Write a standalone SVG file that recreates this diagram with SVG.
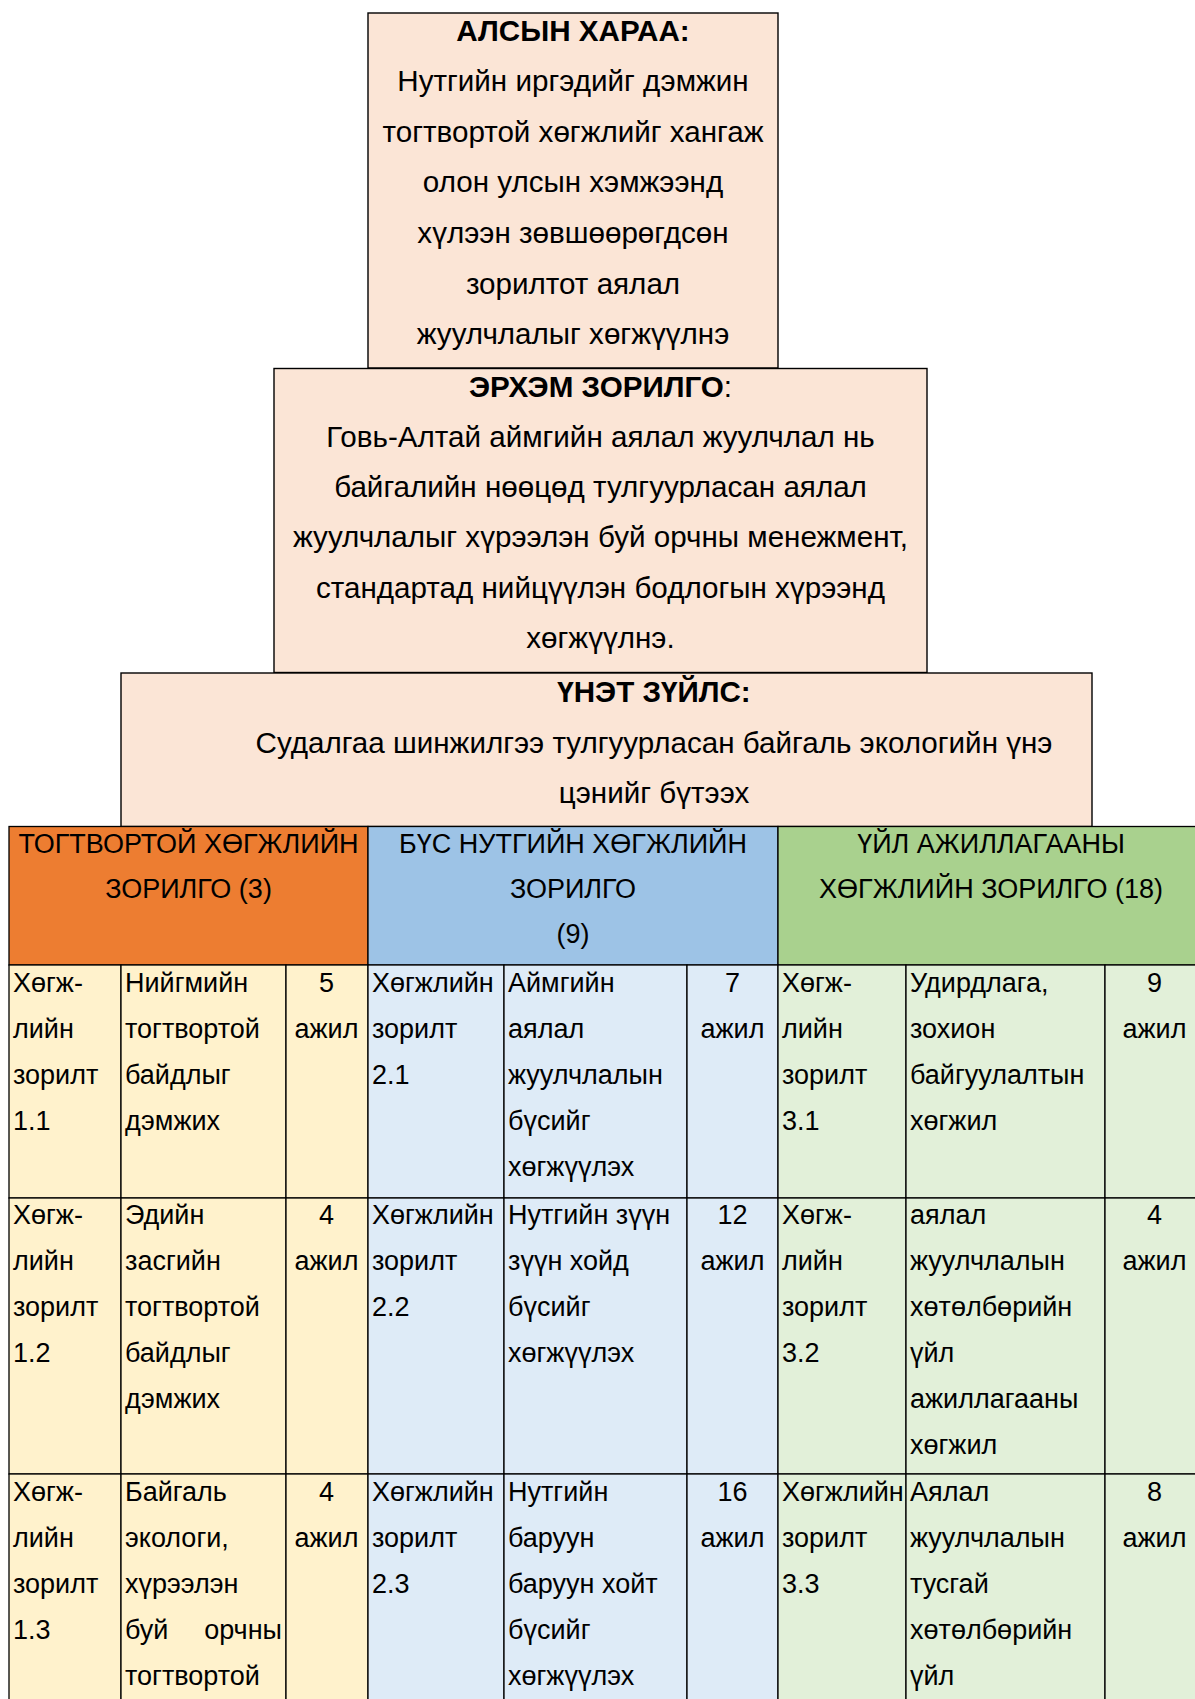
<svg xmlns="http://www.w3.org/2000/svg" width="1195" height="1699" viewBox="0 0 1195 1699">
<style>
text{font-family:"Liberation Sans",Arial,sans-serif;fill:#000}
.bx{fill:#FBE5D6;stroke:#000;stroke-width:1.4}
.bt{font-size:29.6px;text-anchor:middle}
.b{font-weight:bold}
.h{font-size:27px;text-anchor:middle}
.t{font-size:27px}
.c{text-anchor:middle}
.e{text-anchor:end}
.cell{stroke:#000;stroke-width:1.3}
.ho{fill:#ED7D31}.hb{fill:#9DC3E6}.hg{fill:#A9D18E}
.lo{fill:#FFF2CC}.lb{fill:#DEEBF7}.lg{fill:#E2F0D9}
</style>
<g id="vision">
<rect class="bx" x="368" y="13" width="410" height="355"/>
<text class="bt b" x="573" y="41">АЛСЫН ХАРАА:</text>
<text class="bt" x="573" y="91">Нутгийн иргэдийг дэмжин</text>
<text class="bt" x="573" y="141.5">тогтвортой хөгжлийг хангаж</text>
<text class="bt" x="573" y="192">олон улсын хэмжээнд</text>
<text class="bt" x="573" y="243">хүлээн зөвшөөрөгдсөн</text>
<text class="bt" x="573" y="293.5">зорилтот аялал</text>
<text class="bt" x="573" y="344">жуулчлалыг хөгжүүлнэ</text>
</g>
<g id="mission">
<rect class="bx" x="274" y="368.5" width="653" height="304"/>
<text class="bt" x="600.5" y="396.5"><tspan class="b">ЭРХЭМ ЗОРИЛГО</tspan>:</text>
<text class="bt" x="600.5" y="447">Говь-Алтай аймгийн аялал жуулчлал нь</text>
<text class="bt" x="600.5" y="497">байгалийн нөөцөд тулгуурласан аялал</text>
<text class="bt" x="600.5" y="547">жуулчлалыг хүрээлэн буй орчны менежмент,</text>
<text class="bt" x="600.5" y="597.5">стандартад нийцүүлэн бодлогын хүрээнд</text>
<text class="bt" x="600.5" y="648">хөгжүүлнэ.</text>
</g>
<g id="values">
<rect class="bx" x="121" y="673" width="971" height="153.5"/>
<text class="bt b" x="654" y="702">ҮНЭТ ЗҮЙЛС:</text>
<text class="bt" x="654" y="752.5">Судалгаа шинжилгээ тулгуурласан байгаль экологийн үнэ</text>
<text class="bt" x="654" y="803">цэнийг бүтээх</text>
</g>
<g id="goal1">
<rect class="cell ho" x="9" y="826.5" width="359" height="138.5"/>
<text class="h" x="188.5" y="853">ТОГТВОРТОЙ ХӨГЖЛИЙН</text>
<text class="h" x="188.5" y="898">ЗОРИЛГО (3)</text>
</g>
<g id="goal2">
<rect class="cell hb" x="368" y="826.5" width="410" height="138.5"/>
<text class="h" x="573" y="853">БҮС НУТГИЙН ХӨГЖЛИЙН</text>
<text class="h" x="573" y="898">ЗОРИЛГО</text>
<text class="h" x="573" y="943">(9)</text>
</g>
<g id="goal3">
<rect class="cell hg" x="778" y="826.5" width="430" height="138.5"/>
<text class="h" x="991" y="853">ҮЙЛ АЖИЛЛАГААНЫ</text>
<text class="h" x="991" y="898">ХӨГЖЛИЙН ЗОРИЛГО (18)</text>
</g>
<g id="obj11">
<rect class="cell lo" x="9" y="965" width="112" height="233"/>
<rect class="cell lo" x="121" y="965" width="165" height="233"/>
<rect class="cell lo" x="286" y="965" width="82" height="233"/>
<text class="t" x="13" y="992">Хөгж-</text><text class="t" x="13" y="1038">лийн</text><text class="t" x="13" y="1084">зорилт</text><text class="t" x="13" y="1130">1.1</text>
<text class="t" x="125" y="992">Нийгмийн</text><text class="t" x="125" y="1038">тогтвортой</text><text class="t" x="125" y="1084">байдлыг</text><text class="t" x="125" y="1130">дэмжих</text>
<text class="t c" x="326.5" y="992">5</text><text class="t c" x="326.5" y="1038">ажил</text>
</g>
<g id="obj21">
<rect class="cell lb" x="368" y="965" width="136" height="233"/>
<rect class="cell lb" x="504" y="965" width="183" height="233"/>
<rect class="cell lb" x="687" y="965" width="91" height="233"/>
<text class="t" x="372" y="992">Хөгжлийн</text><text class="t" x="372" y="1038">зорилт</text><text class="t" x="372" y="1084">2.1</text>
<text class="t" x="508" y="992">Аймгийн</text><text class="t" x="508" y="1038">аялал</text><text class="t" x="508" y="1084">жуулчлалын</text><text class="t" x="508" y="1130">бүсийг</text><text class="t" x="508" y="1176">хөгжүүлэх</text>
<text class="t c" x="732.5" y="992">7</text><text class="t c" x="732.5" y="1038">ажил</text>
</g>
<g id="obj31">
<rect class="cell lg" x="778" y="965" width="128" height="233"/>
<rect class="cell lg" x="906" y="965" width="199" height="233"/>
<rect class="cell lg" x="1105" y="965" width="103" height="233"/>
<text class="t" x="782" y="992">Хөгж-</text><text class="t" x="782" y="1038">лийн</text><text class="t" x="782" y="1084">зорилт</text><text class="t" x="782" y="1130">3.1</text>
<text class="t" x="910" y="992">Удирдлага,</text><text class="t" x="910" y="1038">зохион</text><text class="t" x="910" y="1084">байгуулалтын</text><text class="t" x="910" y="1130">хөгжил</text>
<text class="t c" x="1154.5" y="992">9</text><text class="t c" x="1154.5" y="1038">ажил</text>
</g>
<g id="obj12">
<rect class="cell lo" x="9" y="1198" width="112" height="276"/>
<rect class="cell lo" x="121" y="1198" width="165" height="276"/>
<rect class="cell lo" x="286" y="1198" width="82" height="276"/>
<text class="t" x="13" y="1224">Хөгж-</text><text class="t" x="13" y="1270">лийн</text><text class="t" x="13" y="1316">зорилт</text><text class="t" x="13" y="1362">1.2</text>
<text class="t" x="125" y="1224">Эдийн</text><text class="t" x="125" y="1270">засгийн</text><text class="t" x="125" y="1316">тогтвортой</text><text class="t" x="125" y="1362">байдлыг</text><text class="t" x="125" y="1408">дэмжих</text>
<text class="t c" x="326.5" y="1224">4</text><text class="t c" x="326.5" y="1270">ажил</text>
</g>
<g id="obj22">
<rect class="cell lb" x="368" y="1198" width="136" height="276"/>
<rect class="cell lb" x="504" y="1198" width="183" height="276"/>
<rect class="cell lb" x="687" y="1198" width="91" height="276"/>
<text class="t" x="372" y="1224">Хөгжлийн</text><text class="t" x="372" y="1270">зорилт</text><text class="t" x="372" y="1316">2.2</text>
<text class="t" x="508" y="1224">Нутгийн зүүн</text><text class="t" x="508" y="1270">зүүн хойд</text><text class="t" x="508" y="1316">бүсийг</text><text class="t" x="508" y="1362">хөгжүүлэх</text>
<text class="t c" x="732.5" y="1224">12</text><text class="t c" x="732.5" y="1270">ажил</text>
</g>
<g id="obj32">
<rect class="cell lg" x="778" y="1198" width="128" height="276"/>
<rect class="cell lg" x="906" y="1198" width="199" height="276"/>
<rect class="cell lg" x="1105" y="1198" width="103" height="276"/>
<text class="t" x="782" y="1224">Хөгж-</text><text class="t" x="782" y="1270">лийн</text><text class="t" x="782" y="1316">зорилт</text><text class="t" x="782" y="1362">3.2</text>
<text class="t" x="910" y="1224">аялал</text><text class="t" x="910" y="1270">жуулчлалын</text><text class="t" x="910" y="1316">хөтөлбөрийн</text><text class="t" x="910" y="1362">үйл</text><text class="t" x="910" y="1408">ажиллагааны</text><text class="t" x="910" y="1454">хөгжил</text>
<text class="t c" x="1154.5" y="1224">4</text><text class="t c" x="1154.5" y="1270">ажил</text>
</g>
<g id="obj13">
<rect class="cell lo" x="9" y="1474" width="112" height="240"/>
<rect class="cell lo" x="121" y="1474" width="165" height="240"/>
<rect class="cell lo" x="286" y="1474" width="82" height="240"/>
<text class="t" x="13" y="1501">Хөгж-</text><text class="t" x="13" y="1547">лийн</text><text class="t" x="13" y="1593">зорилт</text><text class="t" x="13" y="1639">1.3</text>
<text class="t" x="125" y="1501">Байгаль</text><text class="t" x="125" y="1547">экологи,</text><text class="t" x="125" y="1593">хүрээлэн</text><text class="t" x="125" y="1639">буй</text><text class="t e" x="282" y="1639">орчны</text><text class="t" x="125" y="1685">тогтвортой</text>
<text class="t c" x="326.5" y="1501">4</text><text class="t c" x="326.5" y="1547">ажил</text>
</g>
<g id="obj23">
<rect class="cell lb" x="368" y="1474" width="136" height="240"/>
<rect class="cell lb" x="504" y="1474" width="183" height="240"/>
<rect class="cell lb" x="687" y="1474" width="91" height="240"/>
<text class="t" x="372" y="1501">Хөгжлийн</text><text class="t" x="372" y="1547">зорилт</text><text class="t" x="372" y="1593">2.3</text>
<text class="t" x="508" y="1501">Нутгийн</text><text class="t" x="508" y="1547">баруун</text><text class="t" x="508" y="1593">баруун хойт</text><text class="t" x="508" y="1639">бүсийг</text><text class="t" x="508" y="1685">хөгжүүлэх</text>
<text class="t c" x="732.5" y="1501">16</text><text class="t c" x="732.5" y="1547">ажил</text>
</g>
<g id="obj33">
<rect class="cell lg" x="778" y="1474" width="128" height="240"/>
<rect class="cell lg" x="906" y="1474" width="199" height="240"/>
<rect class="cell lg" x="1105" y="1474" width="103" height="240"/>
<text class="t" x="782" y="1501">Хөгжлийн</text><text class="t" x="782" y="1547">зорилт</text><text class="t" x="782" y="1593">3.3</text>
<text class="t" x="910" y="1501">Аялал</text><text class="t" x="910" y="1547">жуулчлалын</text><text class="t" x="910" y="1593">тусгай</text><text class="t" x="910" y="1639">хөтөлбөрийн</text><text class="t" x="910" y="1685">үйл</text>
<text class="t c" x="1154.5" y="1501">8</text><text class="t c" x="1154.5" y="1547">ажил</text>
</g>
<g id="connectors"/>
</svg>
